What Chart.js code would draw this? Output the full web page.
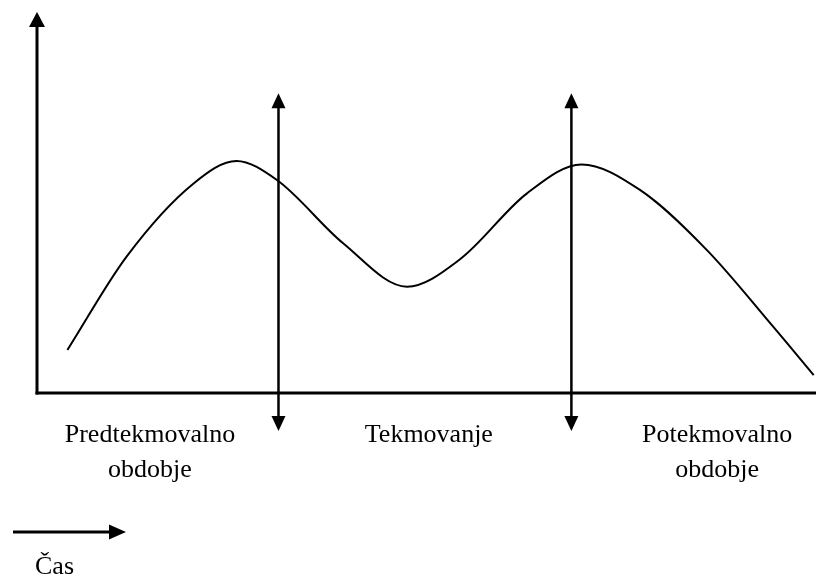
<!DOCTYPE html>
<html>
<head>
<meta charset="utf-8">
<script src="https://cdn.jsdelivr.net/npm/chart.js@4/dist/chart.umd.min.js"></script>
<style>
    html, body { margin: 0; padding: 0; background: #fff; }
    canvas { display: block; }
</style>
</head>
<body>
<canvas id="periodChart" width="816" height="576"></canvas>
<script>
// Curve (time 0..100, level 0..100)
const time  = [3.9, 11.5, 20.1, 25.6, 30.8, 39.3, 47.5, 54.3, 62.9, 69.9, 77.4, 86.0, 94.5, 99.7];
const level = [11.3, 35.8, 55.0, 60.9, 55.9, 39.3, 27.9, 35.1, 52.4, 60.0, 53.3, 37.5, 17.4, 4.7];

// Boundaries between the periods, and where their names sit on the time axis
const phaseBounds = [31.0, 68.6];
const boundTop = 78.7;
const boundBottom = -10;
const phaseLabelAt = [14.5, 50.3, 87.3];
const phaseNames = [['Predtekmovalno', 'obdobje'], ['Tekmovanje'], ['Potekmovalno', 'obdobje']];
const timeLabel = 'Čas';

document.addEventListener('DOMContentLoaded', () => {
    const FONT = '26px "Liberation Serif", "Times New Roman", serif';

    function arrowHead(ctx, tipX, tipY, dx, dy, len, half) {
        // dx,dy = unit direction the arrow points to
        const bx = tipX - dx * len, by = tipY - dy * len;
        ctx.beginPath();
        ctx.moveTo(tipX, tipY);
        ctx.lineTo(bx - dy * half, by + dx * half);
        ctx.lineTo(bx + dy * half, by - dx * half);
        ctx.closePath();
        ctx.fill();
    }

    const diagramPlugin = {
        id: 'diagram',
        afterDatasetsDraw(chart) {
            const { ctx, scales: { x, y } } = chart;
            ctx.save();
            ctx.strokeStyle = '#000';
            ctx.fillStyle = '#000';

            // axes
            const x0 = x.getPixelForValue(0);
            const y0 = y.getPixelForValue(0);
            const yTop = y.getPixelForValue(100);
            ctx.lineWidth = 3;
            ctx.beginPath();
            ctx.moveTo(x0, y0 + 1.5);
            ctx.lineTo(x0, yTop + 12);
            ctx.stroke();
            arrowHead(ctx, x0, yTop, 0, -1, 15, 8);

            ctx.beginPath();
            ctx.moveTo(x0 - 1.5, y0);
            ctx.lineTo(x.getPixelForValue(100), y0);
            ctx.stroke();

            // period boundaries
            ctx.lineWidth = 2.5;
            phaseBounds.forEach(b => {
                const px = x.getPixelForValue(b);
                const top = y.getPixelForValue(boundTop);
                const bottom = y.getPixelForValue(boundBottom);
                ctx.beginPath();
                ctx.moveTo(px, top + 12);
                ctx.lineTo(px, bottom - 12);
                ctx.stroke();
                arrowHead(ctx, px, top, 0, -1, 15, 7);
                arrowHead(ctx, px, bottom, 0, 1, 15, 7);
            });

            // period names
            ctx.font = FONT;
            ctx.textAlign = 'center';
            ctx.textBaseline = 'alphabetic';
            phaseNames.forEach((lines, i) => {
                const px = x.getPixelForValue(phaseLabelAt[i]);
                lines.forEach((line, j) => {
                    ctx.fillText(line, px, y0 + 49 + j * 35);
                });
            });

            // time arrow + label
            const ay = y0 + 139;
            ctx.lineWidth = 3;
            ctx.beginPath();
            ctx.moveTo(x0 - 24, ay);
            ctx.lineTo(x0 + 76, ay);
            ctx.stroke();
            arrowHead(ctx, x0 + 89, ay, 1, 0, 17, 7.5);

            ctx.textAlign = 'left';
            ctx.fillText(timeLabel, x0 - 2, y0 + 181);
            ctx.restore();
        }
    };

    new Chart(document.getElementById('periodChart').getContext('2d'), {
        type: 'line',
        data: {
            datasets: [{
                data: time.map((t, i) => ({ x: t, y: level[i] })),
                borderColor: '#000',
                borderWidth: 2,
                pointRadius: 0,
                cubicInterpolationMode: 'monotone',
                fill: false
            }]
        },
        options: {
            responsive: false,
            animation: false,
            layout: { padding: { left: 37, right: 0, top: 12, bottom: 183 } },
            plugins: { legend: { display: false }, tooltip: { enabled: false } },
            scales: {
                x: { type: 'linear', min: 0, max: 100, display: false },
                y: { type: 'linear', min: 0, max: 100, display: false }
            }
        },
        plugins: [diagramPlugin]
    });
});
</script>
</body>
</html>
